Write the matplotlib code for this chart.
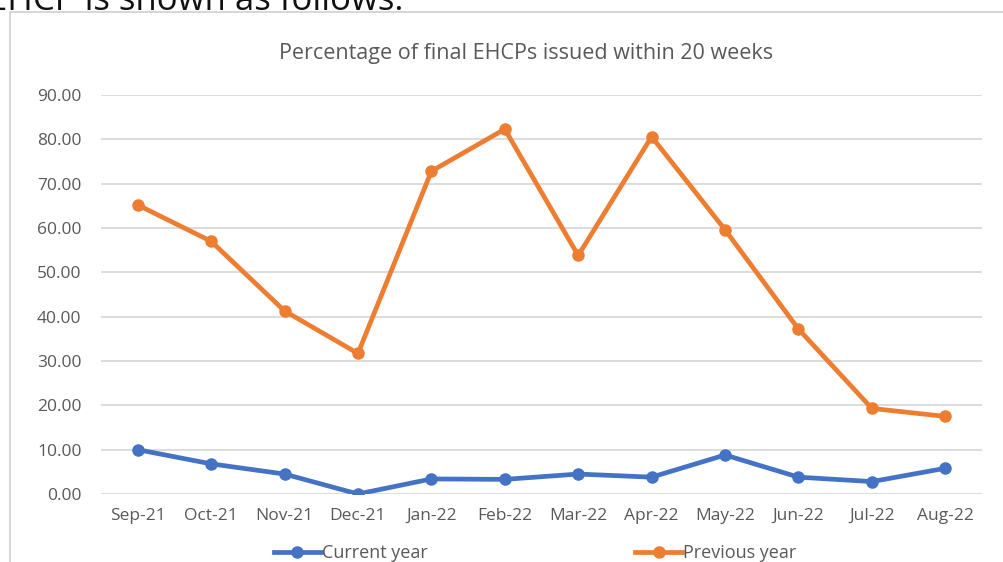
import matplotlib
matplotlib.use("Agg")
import matplotlib.pyplot as plt
from matplotlib.patches import Rectangle

months = ["Sep-21", "Oct-21", "Nov-21", "Dec-21", "Jan-22", "Feb-22",
          "Mar-22", "Apr-22", "May-22", "Jun-22", "Jul-22", "Aug-22"]
current_year = [10.0, 6.8, 4.5, 0.0, 3.4, 3.3, 4.5, 3.8, 8.8, 3.8, 2.8, 5.8]
previous_year = [65.2, 57.0, 41.3, 31.7, 72.8, 82.3, 53.8, 80.6, 59.6, 37.2, 19.3, 17.5]
yticks = [0, 10, 20, 30, 40, 50, 60, 70, 80, 90]

W, H = 1004, 562
fig = plt.figure(figsize=(W / 100, H / 100), dpi=100)
plt.rcParams['font.family'] = ['Open Sans', 'DejaVu Sans']

# chart frame
fig.patches.append(Rectangle((10 / W, -0.1), 1.2, (H - 12) / H + 0.1,
                             transform=fig.transFigure, fill=False,
                             edgecolor='#D0D0D0', lw=1.2))

# cut-off sentence above the chart (as in the screenshot)
fig.text(-12 / W, 1 - 10 / H, "EHCP is shown as follows:", fontsize=25,
         color='#111111', ha='left', va='baseline')

ax = fig.add_axes([101 / W, 1 - 494 / H, (982 - 101) / W, (494 - 95) / H])
x = list(range(len(months)))
ax.plot(x, current_year, color='#4472C4', lw=3.4, marker='o', ms=8,
        label='Current year', solid_joinstyle='round')
ax.plot(x, previous_year, color='#ED7D31', lw=3.4, marker='o', ms=8,
        label='Previous year', solid_joinstyle='round')

ax.set_xlim(-0.5, len(months) - 0.5)
ax.set_ylim(0, 90)
ax.set_yticks(yticks)
ax.set_yticklabels([f"{v:.2f}" for v in yticks])
ax.set_xticks(x)
ax.set_xticklabels(months)
ax.tick_params(axis='both', length=0, labelsize=12.5, labelcolor='#595959')
ax.tick_params(axis='y', pad=14)
ax.tick_params(axis='x', pad=10)
ax.grid(axis='y', color='#D9D9D9', lw=1.3)
ax.set_axisbelow(True)
for s in ax.spines.values():
    s.set_visible(False)

fig.text(526 / W, 1 - 53 / H, "Percentage of final EHCPs issued within 20 weeks",
         ha='center', va='center', fontsize=15.5, color='#595959')

ax.legend(loc='center', bbox_to_anchor=(535 / W, 1 - 553 / H),
          bbox_transform=fig.transFigure, ncol=2, frameon=False,
          fontsize=13, labelcolor='#595959', handlelength=2.6,
          handletextpad=0.05, columnspacing=11.5)

fig.savefig("out.png", dpi=100)
